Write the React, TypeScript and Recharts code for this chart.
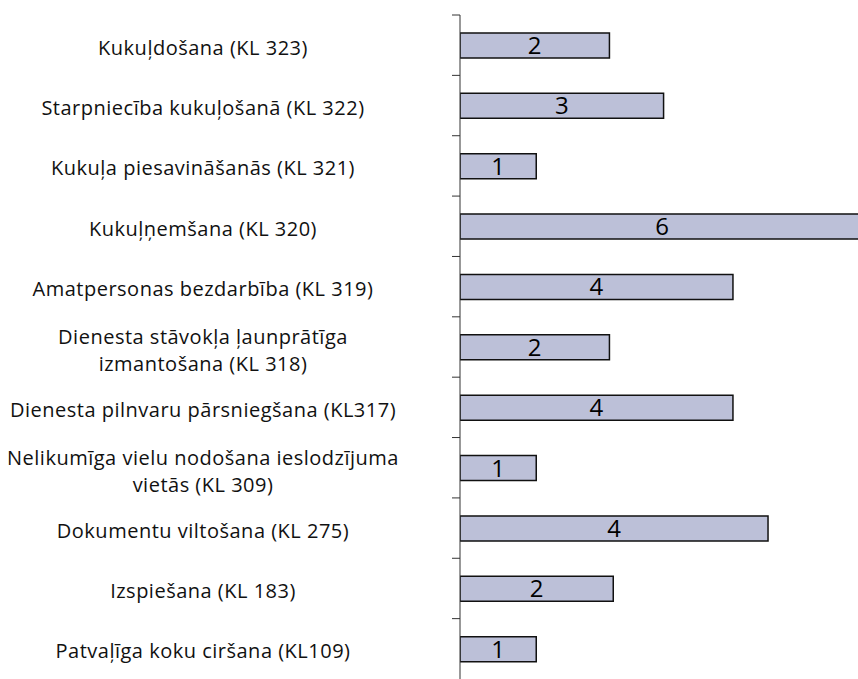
import React from 'react';
import { BarChart, Bar, XAxis, YAxis, LabelList } from 'recharts';

const categories = [
    'Kukuļdošana (KL 323)',
    'Starpniecība kukuļošanā (KL 322)',
    'Kukuļa piesavināšanās (KL 321)',
    'Kukuļņemšana (KL 320)',
    'Amatpersonas bezdarbība (KL 319)',
    'Dienesta stāvokļa ļaunprātīga izmantošana (KL 318)',
    'Dienesta pilnvaru pārsniegšana (KL317)',
    'Nelikumīga vielu nodošana ieslodzījuma vietās (KL 309)',
    'Dokumentu viltošana (KL 275)',
    'Izspiešana (KL 183)',
    'Patvaļīga koku ciršana (KL109)',
];
// bar lengths as drawn (not exactly proportional to the printed counts)
const barValues = [1.96, 2.67, 1.0, 5.3, 3.58, 1.96, 3.58, 1.0, 4.04, 2.01, 1.0];
const counts = [2, 3, 1, 6, 4, 2, 4, 1, 4, 2, 1];
const X_MAX = 5.22;

const data = categories.map((name, i) => ({ name, value: barValues[i], count: counts[i] }));

const FONT = '"Open Sans", sans-serif';

function wrap(text: string, max: number) {
    const words = text.split(' ');
    const lines: string[] = [];
    let cur = '';
    words.forEach((w) => {
        const next = cur ? cur + ' ' + w : w;
        if (next.length > max && cur) {
            lines.push(cur);
            cur = w;
        } else {
            cur = next;
        }
    });
    if (cur) lines.push(cur);
    return lines;
}

function CategoryTick(props: any) {
    const { y, payload } = props;
    const half = payload.offset || (679 - 15) / 22;
    const lines = wrap(payload.value, 38);
    const lh = 27;
    const y0 = y + 2 + (lines.length - 1) - ((lines.length - 1) * lh) / 2;
    return (
        <g>
            <line x1={452} x2={460} y1={y - half} y2={y - half} stroke="#333" strokeWidth={1} />
            <text
                x={203}
                y={y0}
                textAnchor="middle"
                fontFamily={FONT}
                fontSize={20}
                letterSpacing={0.5}
                fill="#111"
            >
                {lines.map((l, i) => (
                    <tspan key={i} x={203} dy={i === 0 ? 0 : lh} dominantBaseline="central">
                        {l}
                    </tspan>
                ))}
            </text>
        </g>
    );
}

export default function App() {
    return (
        <div style={{ position: 'absolute', left: 0, top: 0, width: 858, height: 679, background: '#fff' }}>
            <BarChart
                width={858}
                height={679}
                data={data}
                layout="vertical"
                margin={{ top: 15, right: 0, bottom: 0, left: 0 }}
            >
                <XAxis type="number" domain={[0, X_MAX]} allowDataOverflow hide />
                <YAxis
                    type="category"
                    dataKey="name"
                    width={460}
                    axisLine={{ stroke: '#333', strokeWidth: 1 }}
                    tickLine={false}
                    tick={<CategoryTick />}
                    interval={0}
                />
                <Bar
                    dataKey="value"
                    fill="#bcc0d8"
                    stroke="#111"
                    strokeWidth={1.5}
                    barSize={25}
                    isAnimationActive={false}
                >
                    <LabelList
                        dataKey="count"
                        position="center"
                        fill="#000"
                        fontFamily={FONT}
                        fontSize={24}
                    />
                </Bar>
            </BarChart>
        </div>
    );
}
